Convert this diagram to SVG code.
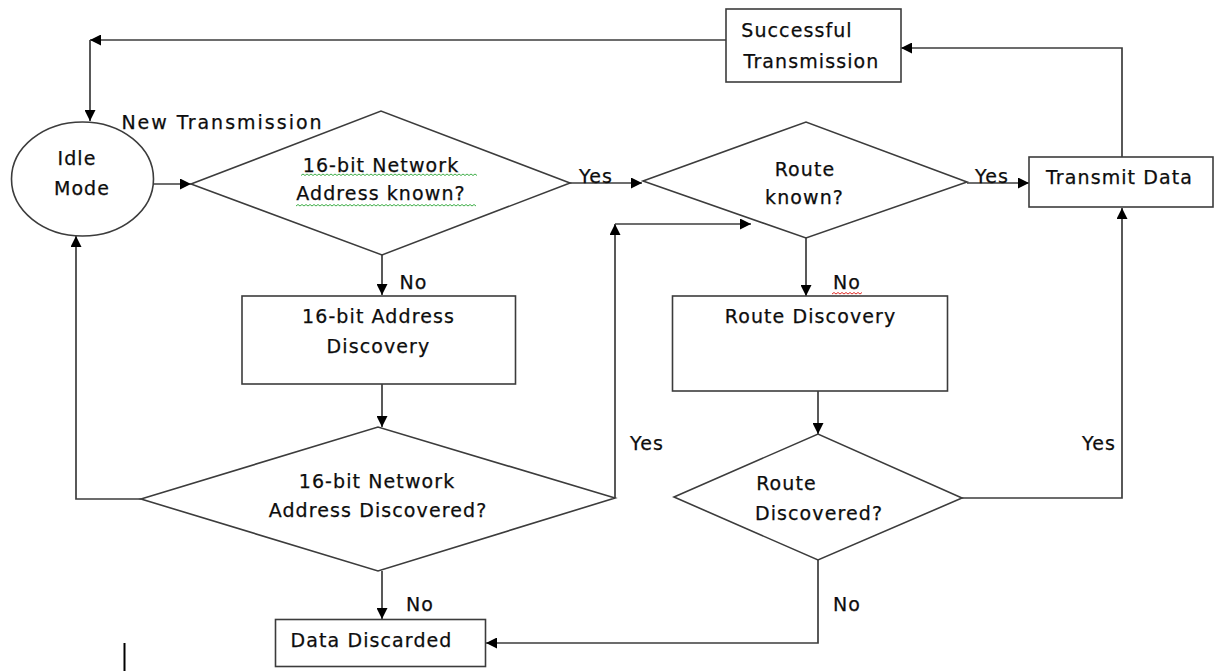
<svg xmlns="http://www.w3.org/2000/svg" width="1221" height="671" viewBox="0 0 1221 671">
  <style>
    .shape { fill: #ffffff; stroke: #3c3c3c; stroke-width: 1.6; }
    .arrow { fill: none; stroke: #3c3c3c; stroke-width: 1.7; marker-end: url(#head); }
    .label { font-family: "DejaVu Sans", "Liberation Sans", sans-serif; font-size: 19px; letter-spacing: 1.1px; fill: #0d0d0d; stroke: #0d0d0d; stroke-width: 0.25px; text-anchor: middle; }
    .wide { letter-spacing: 2px; }
    .squiggle-green { fill: none; stroke: #3fae49; stroke-width: 1; }
    .squiggle-red { fill: none; stroke: #e0302a; stroke-width: 1; }
  </style>
  <defs>
    <marker id="head" viewBox="0 0 10 10" refX="10" refY="5" markerWidth="11" markerHeight="11" markerUnits="userSpaceOnUse" orient="auto">
      <path d="M0,0 L10,5 L0,10 z" fill="#000000"/>
    </marker>
  </defs>

  <rect width="1221" height="671" fill="#ffffff"/>

  <!-- connectors -->
  <g id="connectors">
    <!-- success back to idle -->
    <path class="arrow" d="M726,40 H90"/>
    <path class="arrow" d="M90,40 V121"/>
    <!-- idle to address check -->
    <path class="arrow" d="M153,184 H191"/>
    <!-- address known: yes -->
    <path class="arrow" d="M570,183 H642"/>
    <!-- address known: no -->
    <path class="arrow" d="M382,255 V295"/>
    <!-- address discovery to discovered? -->
    <path class="arrow" d="M382,384 V427"/>
    <!-- discovered?: no route back to idle -->
    <path class="arrow" d="M141,499 H76 V236"/>
    <!-- discovered?: yes to route known -->
    <path class="arrow" d="M615,498 V224"/>
    <path class="arrow" d="M615,224 H751"/>
    <!-- discovered?: no to discard -->
    <path class="arrow" d="M382,571 V619"/>
    <!-- route known: yes -->
    <path class="arrow" d="M967,183 H1029"/>
    <!-- route known: no -->
    <path class="arrow" d="M806,238 V296"/>
    <!-- route discovery to route discovered? -->
    <path class="arrow" d="M818,391 V434"/>
    <!-- route discovered?: yes -->
    <path class="arrow" d="M962,498 H1122 V208"/>
    <!-- route discovered?: no -->
    <path class="arrow" d="M818,560 V643 H486"/>
    <!-- transmit to success -->
    <path class="arrow" d="M1122,157 V48 H901"/>
  </g>

  <!-- nodes -->
  <g id="success">
    <rect class="shape" x="726" y="9" width="175" height="73"/>
    <text class="label" x="797" y="37">Successful</text>
    <text class="label" x="811.5" y="68">Transmission</text>
  </g>

  <g id="idle">
    <ellipse class="shape" cx="82.5" cy="179" rx="71" ry="57"/>
    <text class="label" x="77" y="165">Idle</text>
    <text class="label" x="82" y="195">Mode</text>
  </g>

  <text class="label wide" x="222.5" y="129">New Transmission</text>

  <g id="address-known">
    <polygon class="shape" points="191,184 381,111 570,183 382,255"/>
    <text class="label" x="381" y="171.5">16-bit Network</text>
    <text class="label" x="381" y="200">Address known?</text>
    <path class="squiggle-green" d="M301,175.5 l2,-1.5 l2,1.5 l2,-1.5 l2,1.5 l2,-1.5 l2,1.5 l2,-1.5 l2,1.5 l2,-1.5 l2,1.5 l2,-1.5 l2,1.5 l2,-1.5 l2,1.5 l2,-1.5 l2,1.5 l2,-1.5 l2,1.5 l2,-1.5 l2,1.5 l2,-1.5 l2,1.5 l2,-1.5 l2,1.5 l2,-1.5 l2,1.5 l2,-1.5 l2,1.5 l2,-1.5 l2,1.5 l2,-1.5 l2,1.5 l2,-1.5 l2,1.5 l2,-1.5 l2,1.5 l2,-1.5 l2,1.5 l2,-1.5 l2,1.5 l2,-1.5 l2,1.5 l2,-1.5 l2,1.5 l2,-1.5 l2,1.5 l2,-1.5 l2,1.5 l2,-1.5 l2,1.5 l2,-1.5 l2,1.5 l2,-1.5 l2,1.5 l2,-1.5 l2,1.5 l2,-1.5 l2,1.5 l2,-1.5 l2,1.5 l2,-1.5 l2,1.5 l2,-1.5 l2,1.5 l2,-1.5 l2,1.5 l2,-1.5 l2,1.5 l2,-1.5 l2,1.5 l2,-1.5 l2,1.5 l2,-1.5 l2,1.5 l2,-1.5 l2,1.5 l2,-1.5 l2,1.5 l2,-1.5 l2,1.5 l2,-1.5 l2,1.5 l2,-1.5 l2,1.5 l2,-1.5 l2,1.5 l2,-1.5 l2,1.5"/>
    <path class="squiggle-green" d="M296,206 l2,-1.5 l2,1.5 l2,-1.5 l2,1.5 l2,-1.5 l2,1.5 l2,-1.5 l2,1.5 l2,-1.5 l2,1.5 l2,-1.5 l2,1.5 l2,-1.5 l2,1.5 l2,-1.5 l2,1.5 l2,-1.5 l2,1.5 l2,-1.5 l2,1.5 l2,-1.5 l2,1.5 l2,-1.5 l2,1.5 l2,-1.5 l2,1.5 l2,-1.5 l2,1.5 l2,-1.5 l2,1.5 l2,-1.5 l2,1.5 l2,-1.5 l2,1.5 l2,-1.5 l2,1.5 l2,-1.5 l2,1.5 l2,-1.5 l2,1.5 l2,-1.5 l2,1.5 l2,-1.5 l2,1.5 l2,-1.5 l2,1.5 l2,-1.5 l2,1.5 l2,-1.5 l2,1.5 l2,-1.5 l2,1.5 l2,-1.5 l2,1.5 l2,-1.5 l2,1.5 l2,-1.5 l2,1.5 l2,-1.5 l2,1.5 l2,-1.5 l2,1.5 l2,-1.5 l2,1.5 l2,-1.5 l2,1.5 l2,-1.5 l2,1.5 l2,-1.5 l2,1.5 l2,-1.5 l2,1.5 l2,-1.5 l2,1.5 l2,-1.5 l2,1.5 l2,-1.5 l2,1.5 l2,-1.5 l2,1.5 l2,-1.5 l2,1.5 l2,-1.5 l2,1.5 l2,-1.5 l2,1.5 l2,-1.5 l2,1.5 l2,-1.5 l2,1.5"/>
  </g>

  <g id="route-known">
    <polygon class="shape" points="643,181 806,122 967,182 806,238"/>
    <text class="label" x="805" y="175.5">Route</text>
    <text class="label" x="804.5" y="204">known?</text>
  </g>

  <g id="transmit">
    <rect class="shape" x="1029" y="157" width="184" height="50"/>
    <text class="label" x="1119.5" y="184">Transmit Data</text>
  </g>

  <g id="address-discovery">
    <rect class="shape" x="242" y="296" width="273.5" height="88"/>
    <text class="label" x="378.5" y="323">16-bit Address</text>
    <text class="label" x="378.5" y="353">Discovery</text>
  </g>

  <g id="address-discovered">
    <polygon class="shape" points="141,499 378,427 615,498 378,571"/>
    <text class="label" x="377" y="487.5">16-bit Network</text>
    <text class="label" x="378" y="516.5">Address Discovered?</text>
  </g>

  <g id="route-discovery">
    <rect class="shape" x="672.5" y="296" width="275" height="95"/>
    <text class="label" x="810.5" y="323">Route Discovery</text>
  </g>

  <g id="route-discovered">
    <polygon class="shape" points="674,497 818,434 962,498 818,560"/>
    <text class="label" x="786.5" y="490">Route</text>
    <text class="label" x="819" y="520">Discovered?</text>
  </g>

  <g id="discard">
    <rect class="shape" x="275.5" y="619.5" width="210" height="47"/>
    <text class="label" x="371.5" y="646.5">Data Discarded</text>
  </g>

  <!-- branch labels -->
  <g id="branch-labels">
    <text class="label" x="596" y="183">Yes</text>
    <text class="label" x="992" y="182.5">Yes</text>
    <text class="label" x="413.5" y="288.5">No</text>
    <text class="label" x="847" y="288.5">No</text>
    <path class="squiggle-red" d="M832,294 l2,-1.5 l2,1.5 l2,-1.5 l2,1.5 l2,-1.5 l2,1.5 l2,-1.5 l2,1.5 l2,-1.5 l2,1.5 l2,-1.5 l2,1.5 l2,-1.5 l2,1.5 l2,-1.5"/>
    <text class="label" x="647" y="450">Yes</text>
    <text class="label" x="1099" y="450">Yes</text>
    <text class="label" x="420" y="611">No</text>
    <text class="label" x="847" y="611">No</text>
  </g>

  <!-- text cursor -->
  <line x1="124.5" y1="643" x2="124.5" y2="671" stroke="#000000" stroke-width="2"/>
</svg>
